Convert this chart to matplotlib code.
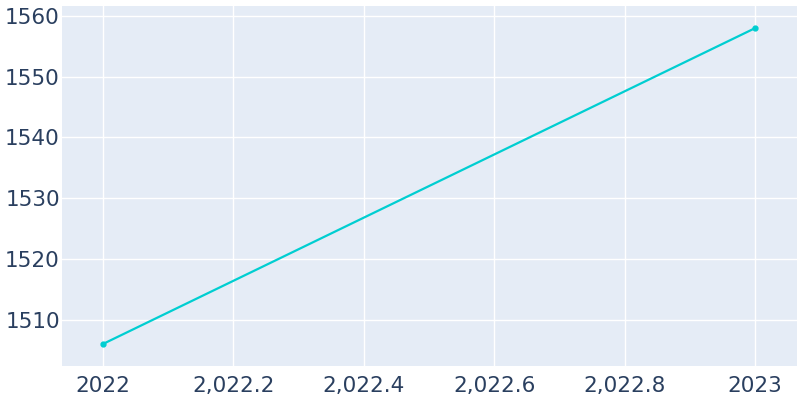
import matplotlib
matplotlib.use("Agg")
import matplotlib.pyplot as plt
from matplotlib.ticker import FuncFormatter, FixedLocator

years = [2022, 2023]
population = [1506, 1558]
x_ticks = [2022, 2022.2, 2022.4, 2022.6, 2022.8, 2023]
y_ticks = [1510, 1520, 1530, 1540, 1550, 1560]

bg = "#E5ECF6"
txt = "#2A3F5F"
line_col = "#00CED1"

def fmt_x(v, pos):
    #plotly-like: plain integers, comma-separated decimals
    if abs(v - round(v)) < 1e-9:
        return str(int(round(v)))
    return f"{v:,.1f}"

fig = plt.figure(figsize=(8, 4), dpi=100)
ax = fig.add_axes([0.0775, 0.085, 0.91875, 0.9])
ax.set_facecolor(bg)

ax.plot(years, population, color=line_col, linewidth=1.6, marker="o", markersize=3.5, zorder=3)

ax.set_xlim(2022 - 0.0629, 2023 + 0.0644)
ax.set_ylim(1502.37, 1561.65)
ax.xaxis.set_major_locator(FixedLocator(x_ticks))
ax.yaxis.set_major_locator(FixedLocator(y_ticks))
ax.xaxis.set_major_formatter(FuncFormatter(fmt_x))

ax.grid(True, color="white", linewidth=1)
ax.set_axisbelow(True)
for s in ax.spines.values():
    s.set_visible(False)

ax.tick_params(axis="both", length=0, labelsize=15.5, labelcolor=txt)
ax.tick_params(axis="x", pad=7)
ax.tick_params(axis="y", pad=1.5)

fig.savefig("out.png", dpi=100)
